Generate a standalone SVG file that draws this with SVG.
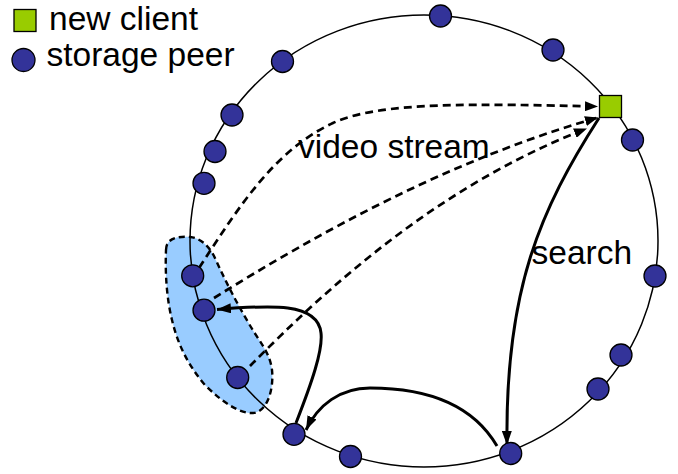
<svg xmlns="http://www.w3.org/2000/svg" width="678" height="474" viewBox="0 0 678 474">
<defs>
<style>
.peer{fill:#333399;stroke:#000;stroke-width:1.3}
.client{fill:#99CC00;stroke:#000;stroke-width:1.3}
.lbl{font-family:"Liberation Sans",Arial,Helvetica,sans-serif;font-size:33.5px;fill:#000}
.ring{fill:none;stroke:#000;stroke-width:1.5}
.dash{fill:none;stroke:#000;stroke-width:2.7;stroke-dasharray:8,5}
.solid{fill:none;stroke:#000;stroke-width:3}
.blob{fill:#99CCFF;stroke:#000;stroke-width:2.4;stroke-dasharray:6,4}
</style>
<marker id="ah" markerUnits="userSpaceOnUse" viewBox="0 0 14 10" refX="14" refY="5" markerWidth="14" markerHeight="10" orient="auto">
<path d="M0,0 L14,5 L0,10 Z" fill="#000"/>
</marker>
<marker id="ahd" markerUnits="userSpaceOnUse" viewBox="0 0 13 10" refX="13" refY="5" markerWidth="13" markerHeight="10" orient="auto">
<path d="M0,0 L13,5 L0,10 Z" fill="#000"/>
</marker>
</defs>
<rect width="678" height="474" fill="#fff"/>

<g id="legend">
<rect class="client" x="14" y="9.5" width="22" height="22"/>
<text class="lbl" x="49" y="30">new client</text>
<circle class="peer" cx="23.5" cy="60" r="11.5"/>
<text class="lbl" x="46.5" y="66">storage peer</text>
</g>

<g id="cluster">
<path class="blob" d="M 166,250 C 166,238 178,236 190,237 C 200,238 208,245 214,256 C 225,280 235,300 248,322 C 258,340 270,352 272,370 C 274,390 267,412 253,413 C 240,414 222,402 205,385 C 188,365 178,345 172,320 C 167,300 165,275 166,250 Z"/>
</g>

<ellipse id="ring" class="ring" cx="424" cy="241" rx="234" ry="226"/>

<g id="connectors">
<path class="dash" d="M 199,268 C 240,205 275,150 333,123 C 380,101 480,104 598,106.5" marker-end="url(#ahd)"/>
<path class="dash" d="M 214,298 C 320,232 450,160 598,117.5" marker-end="url(#ahd)"/>
<path class="dash" d="M 250,366 C 330,285 440,185 587,128.5" marker-end="url(#ahd)"/>
<path class="solid" d="M 599,118 C 540,210 505,290 507,445" marker-end="url(#ah)"/>
<path class="solid" d="M 497,446 C 470,400 420,388 370,388 C 340,388 318,405 306,430" marker-end="url(#ah)"/>
<path class="solid" d="M 296,423 C 312,382 323,350 321,333 C 318,302 270,305 217,309.5" marker-end="url(#ah)"/>
</g>

<g id="labels">
<text class="lbl" x="298" y="157.5">video stream</text>
<text class="lbl" x="531.5" y="264">search</text>
</g>

<g id="client"><rect class="client" x="599.5" y="95.5" width="22" height="22"/></g>
<g id="p1"><circle class="peer" cx="440.5" cy="16" r="11"/></g>
<g id="p2"><circle class="peer" cx="553" cy="50" r="11"/></g>
<g id="p3"><circle class="peer" cx="632.5" cy="140" r="11"/></g>
<g id="p4"><circle class="peer" cx="655" cy="276" r="11"/></g>
<g id="p5"><circle class="peer" cx="621" cy="355" r="11"/></g>
<g id="p6"><circle class="peer" cx="598" cy="389" r="11"/></g>
<g id="p7"><circle class="peer" cx="510.7" cy="453.5" r="11"/></g>
<g id="p8"><circle class="peer" cx="350.5" cy="456.5" r="11"/></g>
<g id="p9"><circle class="peer" cx="294" cy="434.3" r="11"/></g>
<g id="p10"><circle class="peer" cx="237.7" cy="377.5" r="11"/></g>
<g id="p11"><circle class="peer" cx="204" cy="310.2" r="11"/></g>
<g id="p12"><circle class="peer" cx="192.7" cy="275.8" r="11"/></g>
<g id="p13"><circle class="peer" cx="204" cy="183.3" r="11"/></g>
<g id="p14"><circle class="peer" cx="215" cy="151.5" r="11"/></g>
<g id="p15"><circle class="peer" cx="232" cy="115" r="11"/></g>
<g id="p16"><circle class="peer" cx="282.5" cy="61.5" r="11"/></g>
</svg>
